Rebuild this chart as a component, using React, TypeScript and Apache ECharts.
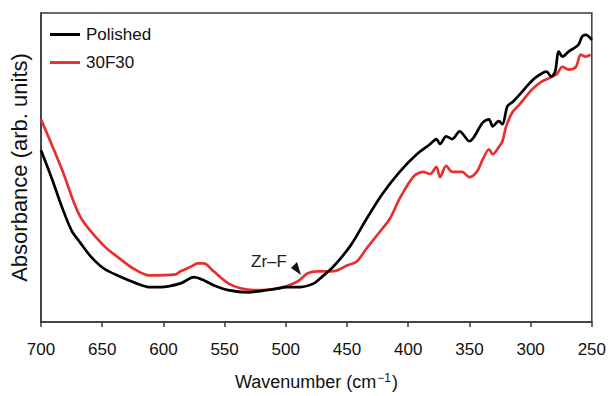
import React, { useEffect, useRef } from "react";
import * as echarts from "echarts";

const xTicks = [700, 650, 600, 550, 500, 450, 400, 350, 300, 250];

const polishedWn = [700, 691, 683, 675, 668, 660, 649, 636, 622, 612, 602, 586, 575, 567, 559, 547, 531, 521, 510, 499, 488, 477, 472, 461, 447, 434, 421, 407, 393, 382, 377, 374, 369, 364, 358, 350, 339, 334, 331, 326, 323, 319, 315, 309, 301, 296, 287, 283, 280, 277, 274, 269, 261, 258, 255, 250];
const polishedAbs = [55.6, 46.3, 37.3, 29.6, 25.7, 21.5, 17.4, 14.8, 12.5, 11.3, 11.3, 12.5, 14.5, 13.5, 11.9, 10.3, 9.6, 10.0, 10.6, 11.3, 11.3, 12.5, 14.1, 18.0, 24.8, 33.4, 41.5, 48.6, 54.3, 57.6, 59.2, 57.6, 60.1, 59.2, 61.7, 58.5, 64.6, 65.6, 63.3, 65.0, 64.0, 69.8, 71.1, 73.6, 77.2, 79.1, 81.0, 79.4, 81.0, 87.5, 85.9, 87.5, 89.7, 92.3, 92.9, 91.3];

const f30Wn = [700, 683, 668, 649, 636, 625, 612, 590, 586, 577, 572, 567, 559, 547, 537, 526, 512, 502, 490, 482, 474, 466, 458, 450, 442, 434, 423, 415, 407, 396, 388, 382, 377, 374, 369, 364, 356, 350, 344, 339, 334, 331, 326, 323, 320, 315, 309, 299, 291, 279, 274, 269, 263, 259, 255, 251];
const f30Abs = [65.6, 49.5, 34.1, 24.8, 20.6, 17.4, 15.1, 15.4, 16.4, 18.0, 19.0, 19.0, 16.4, 12.5, 10.9, 10.3, 10.6, 11.3, 13.2, 15.8, 16.4, 16.4, 16.7, 18.3, 19.6, 23.8, 29.3, 33.4, 39.9, 46.9, 48.6, 47.9, 50.2, 46.9, 50.5, 48.6, 48.6, 46.9, 48.6, 52.7, 55.9, 54.3, 56.6, 58.5, 63.3, 67.8, 70.4, 75.2, 77.8, 80.1, 82.6, 81.7, 82.6, 86.5, 85.9, 86.5];

const seriesNames = ["Polished", "30F30"];
const annotationText = "Zr–F";

const FONT = "'Liberation Sans', Arial, sans-serif";
const FRAME = "#3a3a3a";

export default function App() {
  const ref = useRef<HTMLDivElement>(null);
  useEffect(() => {
    if (!ref.current) return;
    const chart = echarts.init(ref.current, null, { renderer: "svg" });
    const zip = (a: number[], b: number[]) => a.map((v, i) => [v, b[i]]);
    chart.setOption({
      animation: false,
      textStyle: { fontFamily: FONT },
      grid: {
        left: 39,
        right: 16,
        top: 13,
        bottom: 72,
        show: true,
        borderColor: FRAME,
        borderWidth: 1.5,
        backgroundColor: "transparent",
      },
      legend: {
        orient: "vertical",
        left: 50,
        top: 26,
        padding: 0,
        itemWidth: 30,
        itemHeight: 3,
        itemGap: 11,
        icon: "rect",
        data: seriesNames,
        textStyle: { fontSize: 17, lineHeight: 17, color: "#111", fontFamily: FONT, padding: [0, 0, 0, 1] },
      },
      xAxis: {
        type: "value",
        inverse: true,
        min: 250,
        max: 700,
        interval: 50,
        name: "Wavenumber (cm{sup|−1})",
        nameLocation: "middle",
        nameGap: 50,
        nameTextStyle: {
          fontSize: 18,
          color: "#111",
          fontFamily: FONT,
          rich: {
            sup: { fontSize: 12, verticalAlign: "top", padding: [0, 1, 8, 1], color: "#111", fontFamily: FONT },
          },
        },
        axisLine: { show: true, lineStyle: { color: FRAME, width: 1.5 } },
        axisTick: { show: true, inside: false, length: 5, lineStyle: { color: FRAME, width: 1.5 } },
        axisLabel: {
          fontSize: 17,
          color: "#111",
          margin: 19,
          fontFamily: FONT,
        },
        splitLine: { show: false },
      },
      yAxis: {
        type: "value",
        min: 0,
        max: 100,
        name: "Absorbance (arb. units)",
        nameLocation: "middle",
        nameGap: 11,
        nameTextStyle: { fontSize: 22, color: "#111", fontFamily: FONT },
        axisLine: { show: true, lineStyle: { color: FRAME, width: 1.5 } },
        axisTick: { show: false },
        axisLabel: { show: false },
        splitLine: { show: false },
      },
      series: [
        {
          name: seriesNames[0],
          type: "line",
          data: zip(polishedWn, polishedAbs),
          showSymbol: false,
          symbol: "none",
          smooth: 0.3,
          z: 3,
          lineStyle: { color: "#000", width: 2.7, join: "round" },
          itemStyle: { color: "#000" },
        },
        {
          name: seriesNames[1],
          type: "line",
          data: zip(f30Wn, f30Abs),
          showSymbol: false,
          symbol: "none",
          smooth: 0.3,
          z: 2,
          lineStyle: { color: "#e8302e", width: 2.7, join: "round" },
          itemStyle: { color: "#e8302e" },
        },
      ],
      graphic: [
        {
          type: "text",
          left: 251,
          top: 253,
          style: { text: annotationText, fontSize: 17, fill: "#222", fontFamily: FONT },
        },
        {
          type: "polygon",
          shape: { points: [[291, 268], [297, 262], [301, 275]] },
          style: { fill: "#111" },
        },
      ],
    });
    return () => chart.dispose();
  }, []);
  return (
    <div
      ref={ref}
      style={{ position: "absolute", left: 0, top: 0, width: 609, height: 396 }}
    />
  );
}
